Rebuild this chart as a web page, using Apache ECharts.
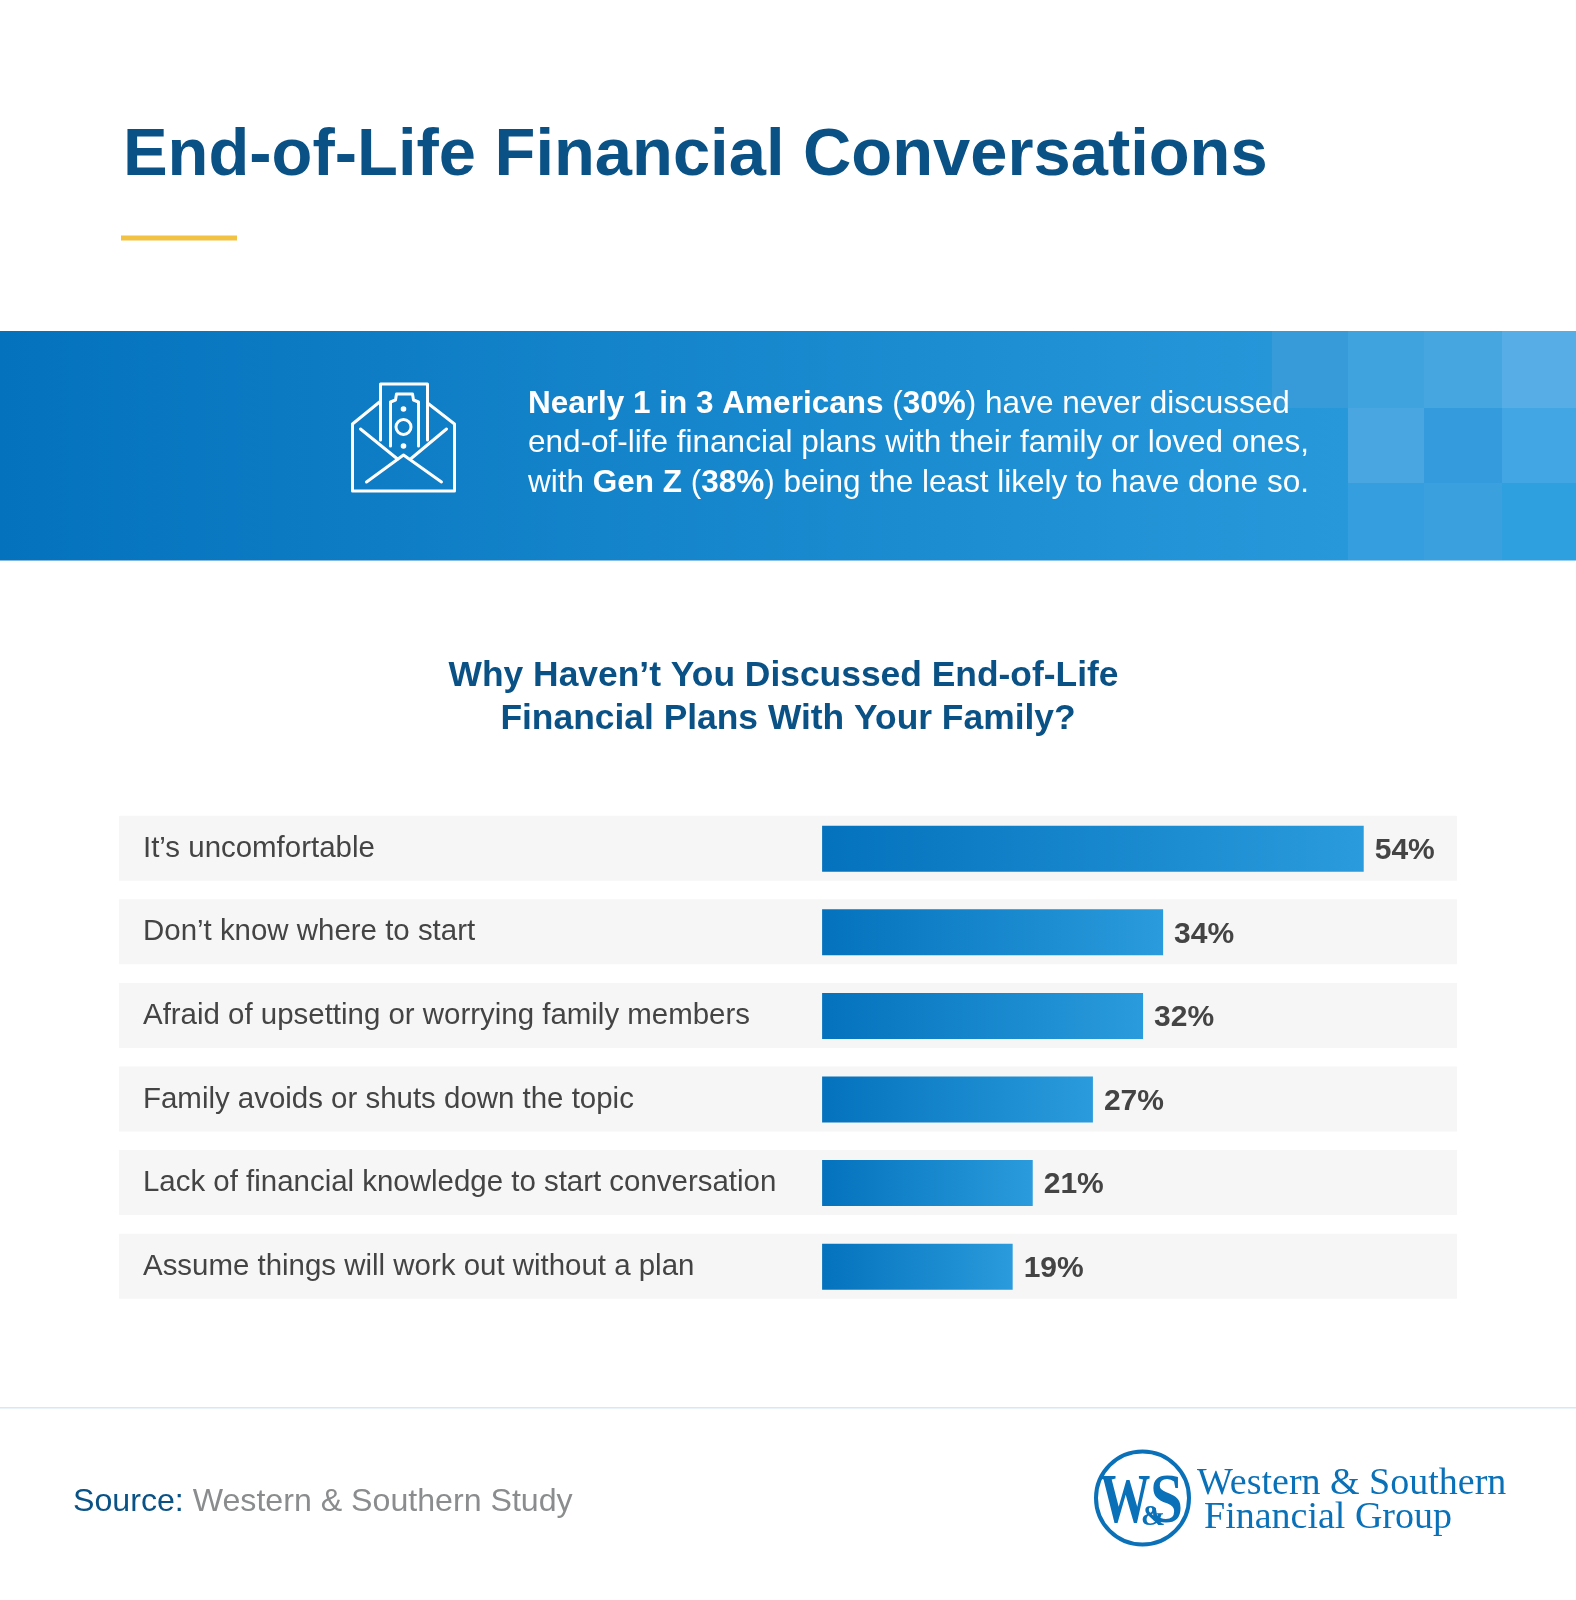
<!DOCTYPE html>
<html><head><meta charset="utf-8">
<script src="https://cdn.jsdelivr.net/npm/echarts@6/dist/echarts.min.js"></script>
<style>html,body{margin:0;padding:0;background:#fff}#c{width:1576px;height:1600px}</style>
</head><body><div id="c"></div>
<script>
const categories = ["It’s uncomfortable","Don’t know where to start","Afraid of upsetting or worrying family members","Family avoids or shuts down the topic","Lack of financial knowledge to start conversation","Assume things will work out without a plan"];
const values = [54,34,32,27,21,19];
const NAVY='#0A5286', FONT='"Liberation Sans",Arial,sans-serif', SERIF='"Liberation Serif",serif', LOGO='#0A71B8';

const chart = echarts.init(document.getElementById('c'), null, {renderer:'canvas'});
const stroke = {stroke:'#fff', lineWidth:3, fill:null, lineJoin:'round', lineCap:'round'};
const poly = pts => ({type:'polyline', z:6, shape:{points:pts.map(p=>[p[0]+2.5,p[1]])}, style:stroke});
const tiles = [[1272,331,76,77,'#379BDA'],[1348,331,76,77,'#3FA3DD'],[1424,331,78,77,'#46A6E0'],[1502,331,74,77,'#57AEE6'],
 [1348,408,76,75,'#4AA6E0'],[1424,408,78,75,'#349BDC'],[1502,408,74,75,'#41A6E3'],
 [1348,483,76,77,'#349EDE'],[1424,483,78,77,'#3BA0DE'],[1502,483,74,77,'#2EA0DF']];
const bandLine = {type:'rect', shape:{x:0,y:331,width:1576,height:229.5}, z:1,
  style:{fill:new echarts.graphic.LinearGradient(0,0,1,0,[{offset:0,color:'#0472BD'},{offset:1,color:'#2D9FDF'}])}};
const graphics = [
  {type:'rect', shape:{x:121,y:235.5,width:116,height:5}, style:{fill:'#F2C342'}},
  bandLine,
  ...tiles.map(t=>({type:'rect', z:2, shape:{x:t[0],y:t[1],width:t[2],height:t[3]}, style:{fill:t[4]}})),
  poly([[377,402],[350,424],[350,491],[452,491],[452,424],[425,403]]),
  poly([[378,440],[378,384],[425,384],[425,440]]),
  poly([[388,446],[388,402],[393,400],[394,394],[410,394],[411,400],[416,402],[416,446]]),
  {type:'ellipse', z:6, shape:{cx:403.5,cy:427,rx:7.5,ry:7.5}, style:stroke},
  {type:'circle', z:6, shape:{cx:403.5,cy:409,r:2.8}, style:{fill:'#fff'}},
  {type:'circle', z:6, shape:{cx:403.5,cy:446,r:2.8}, style:{fill:'#fff'}},
  poly([[358,429],[395,459]]),
  poly([[444,429],[408,459]]),
  poly([[364,482],[401,455],[439,482]]),
  {type:'text', z:6, x:528, y:384.5, style:{
    text:'{b|Nearly 1 in 3 Americans} {n|(}{b|30%}{n|) have never discussed}\n{n|end-of-life financial plans with their family or loved ones,}\n{n|with }{b|Gen Z}{n| (}{b|38%}{n|) being the least likely to have done so.}',
    fill:'#fff', font:'32px '+FONT, lineHeight:39.5,
    rich:{b:{font:'bold 31.5px '+FONT,fill:'#fff',lineHeight:39.5},n:{font:'31.5px '+FONT,fill:'#fff',lineHeight:39.5}}}},
  {type:'rect', shape:{x:0,y:1407,width:1576,height:1.5}, style:{fill:'#D4E8F5'}},
  {type:'text', x:73, y:1486, style:{text:'{a|Source: }{g|Western & Southern Study}',
    rich:{a:{font:'32.15px '+FONT,fill:NAVY},g:{font:'32.15px '+FONT,fill:'#8A8C8E'}}}},
  {type:'circle', shape:{cx:1142.5,cy:1498,r:46.5}, style:{fill:null,stroke:LOGO,lineWidth:4}},
  {type:'text', x:1100, y:1469, scaleX:0.72, style:{text:'W',font:'bold 70px '+SERIF,fill:LOGO}},
  {type:'text', x:1150, y:1469, scaleX:0.85, style:{text:'S',font:'bold 70px '+SERIF,fill:LOGO}},
  {type:'text', x:1141, y:1503, z:4, style:{text:'&',font:'bold 29px '+SERIF,fill:LOGO}},
  {type:'text', x:1197, y:1465, style:{text:'Western & Southern',font:'38px '+SERIF,fill:LOGO}},
  {type:'text', x:1204, y:1499, style:{text:'Financial Group',font:'38px '+SERIF,fill:LOGO}}
];
const subStyle = {color:NAVY,fontFamily:FONT,fontWeight:'bold',fontSize:35.4,lineHeight:43};

chart.setOption({
  animation:false,
  backgroundColor:'#fff',
  title:[
    {text:'End-of-Life Financial Conversations', left:118, top:118, textStyle:{color:NAVY,fontFamily:FONT,fontWeight:'bold',fontSize:66.9}},
    {text:'Why Haven’t You Discussed End-of-Life', left:778.5, top:650, textAlign:'center', textStyle:subStyle},
    {text:'Financial Plans With Your Family?', left:783, top:693, textAlign:'center', textStyle:subStyle}
  ],
  grid:{left:119, top:806.9, width:1338, height:501.6, containLabel:false},
  xAxis:{type:'value', min:-70.1, max:63.3, show:false, splitLine:{show:false}},
  yAxis:{type:'category', inverse:true, data:categories, position:'left', z:10,
    axisLine:{show:false}, axisTick:{show:false},
    axisLabel:{inside:true, margin:24, color:'#444', fontFamily:FONT, fontSize:29.45, verticalAlign:'middle', padding:[0,0,3,0]}},
  graphic:graphics,
  series:[
    {type:'custom', silent:true, z:1, data:categories.map((c,i)=>[i]), encode:{y:0,x:-1},
     renderItem:(params,api)=>{
       const cs=params.coordSys, y=api.coord([0,api.value(0)])[1];
       return {type:'rect', shape:{x:cs.x,y:y-33,width:cs.width,height:65}, style:{fill:'#F6F6F7'}};
     }},
    {type:'bar', z:3, data:values, barWidth:46,
     itemStyle:{color:new echarts.graphic.LinearGradient(0,0,1,0,[{offset:0,color:'#0472BD'},{offset:1,color:'#2A9BDC'}])},
     label:{show:true, position:'right', distance:11, formatter:'{c}%', color:'#444', fontFamily:FONT, fontWeight:'bold', fontSize:30, offset:[0,2]}}
  ]
});
</script></body></html>
